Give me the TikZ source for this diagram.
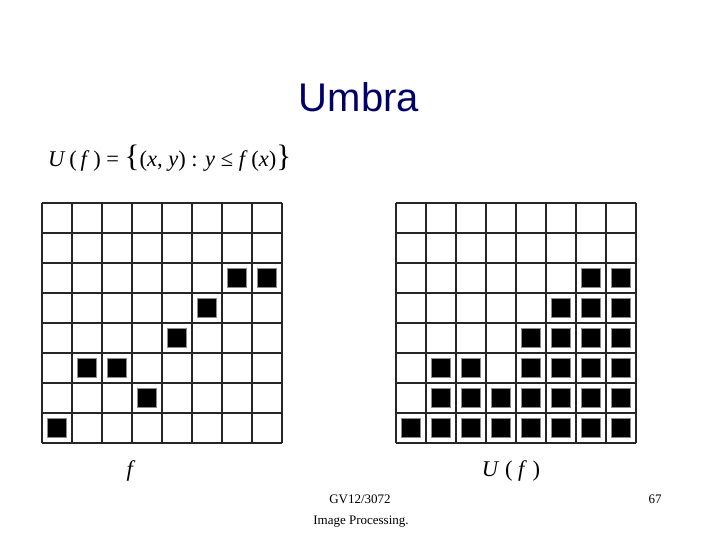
\documentclass[tikz,border=0pt]{standalone}
\usepackage{fontspec}
\setmainfont{Liberation Serif}
\newfontfamily\titlefont{Liberation Sans}
\usepackage{tikz}

\definecolor{slideblue}{RGB}{0,0,105}

\tikzset{
	pixel/.style={fill=black, draw=black!45, line width=0.8pt, minimum size=18.5pt, inner sep=0pt},
	gridline/.style={line width=1.4pt, black!85},
	label/.style={font=\fontsize{22.5}{24}\selectfont, inner sep=0pt, anchor=base},
	footer/.style={font=\fontsize{13}{15}\selectfont, inner sep=0pt, anchor=base}
}

\begin{document}
\begin{tikzpicture}[x=1pt,y=1pt]
	\useasboundingbox (0,0) rectangle (720,540);

	\node[text=slideblue, font=\titlefont\fontsize{40}{44}\selectfont, inner sep=0pt, anchor=base]
		(title) at (359,428) {Umbra};
	\node[label, font=\fontsize{22.5}{24}\selectfont, anchor=base west] (defn) at (48,373)
		{\textit{U}\,(\,\textit{f}\,) = {\fontsize{31}{31}\selectfont\{}(\textit{x}, \textit{y}) : \textit{y} ≤ \textit{f}\,(\textit{x}){\fontsize{31}{31}\selectfont\}}};

	% the function f
	\begin{scope}[shift={(42,97)}, x=30pt, y=30pt]
		\draw[gridline] (0,0) grid[step=30pt] (8,8);
		\foreach \c/\r in {0/0,1/2,2/2,3/1,4/3,5/4,6/5,7/5}
			\node[pixel] (f\c) at (\c+.5,\r+.5) {};
	\end{scope}

	% its umbra
	\begin{scope}[shift={(396,97)}, x=30pt, y=30pt]
		\draw[gridline] (0,0) grid[step=30pt] (8,8);
		\foreach \c/\h in {0/0,1/2,2/2,3/1,4/3,5/4,6/5,7/5}
			\foreach \r in {0,...,\h}
				\node[pixel] (u\c\r) at (\c+.5,\r+.5) {};
	\end{scope}

	\node[label] (flabel) at (131,63) {\textit{f}};
	\node[label] (ulabel) at (511,63) {\textit{U} ( \textit{f} )};

	\node[footer] (course) at (360,36) {GV12/3072};
	\node[footer] (module) at (361,15) {Image Processing.};
	\node[footer] (page) at (655,36) {67};
\end{tikzpicture}
\end{document}
